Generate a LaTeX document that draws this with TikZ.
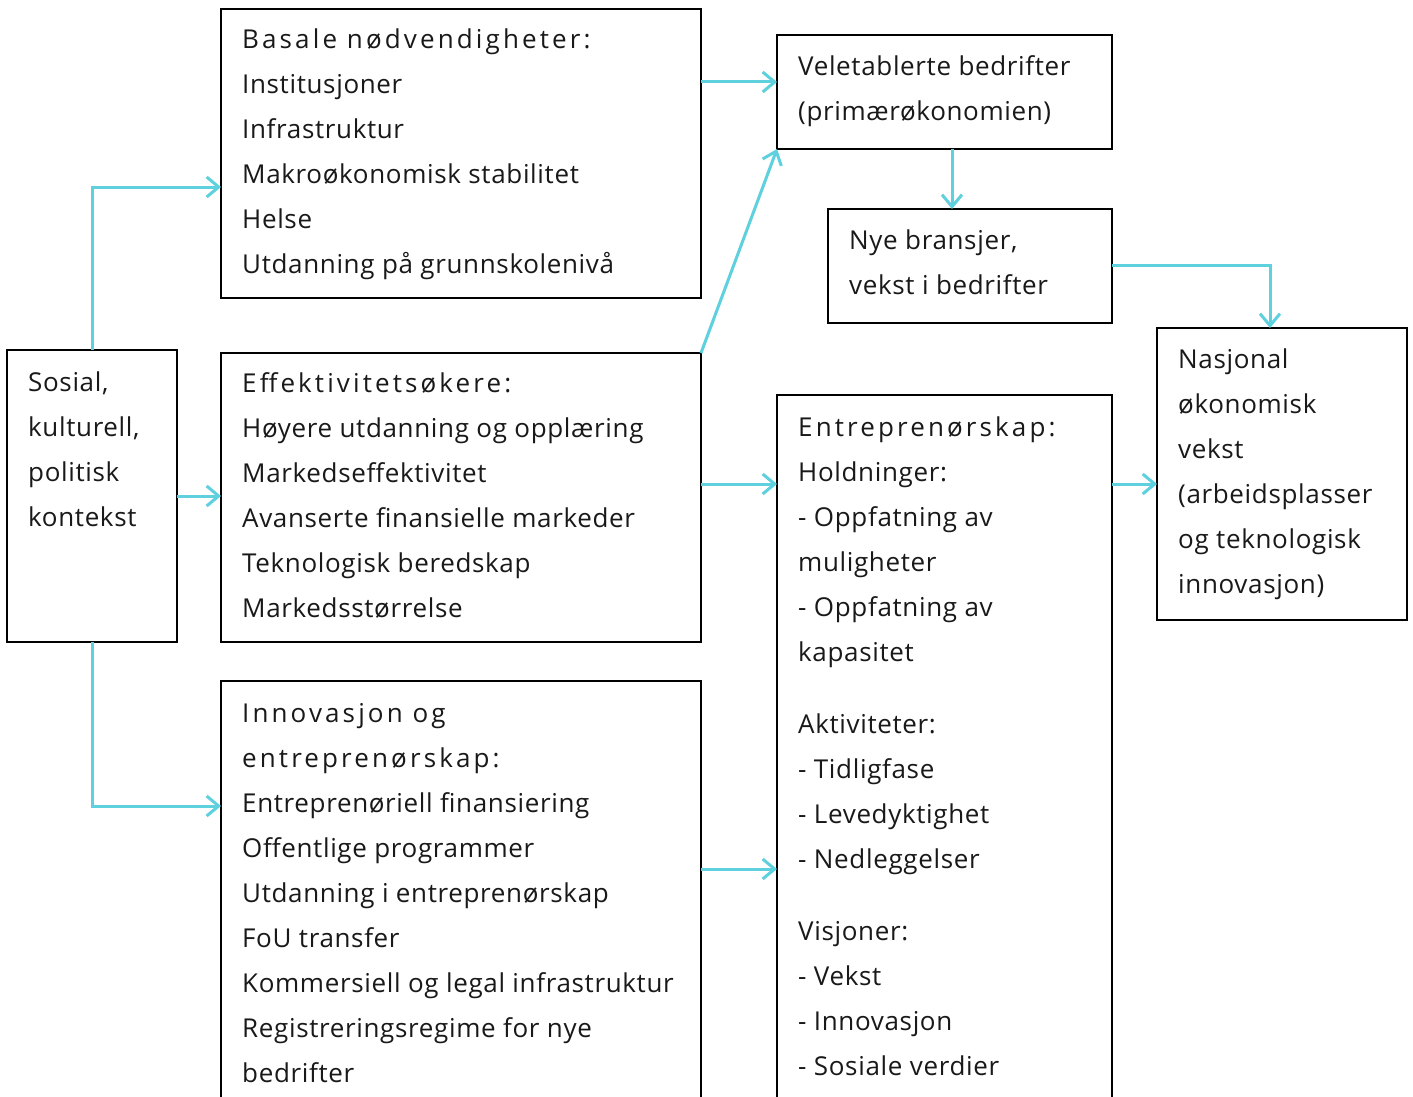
\documentclass[tikz,border=0pt]{standalone}
\usepackage{fontspec}
\setmainfont[LetterSpace=2.5]{Open Sans}
\newfontfamily\headfont[LetterSpace=12]{Open Sans}
\usetikzlibrary{arrows.meta,calc}
\definecolor{arr}{RGB}{94,208,222}
\newcommand\topstrut{\rule{0pt}{30pt}}
\begin{document}
\begin{tikzpicture}[x=1pt,y=-1pt,
 box/.style={draw=black,line width=2pt,inner sep=0pt,outer sep=0pt,anchor=north west},
 txt/.style={anchor=north west,inner sep=0pt,align=left,font=\fontsize{26}{45}\selectfont,text=black!90},
 conn/.style={draw=arr,line width=3pt,-{Straight Barb[length=12pt,width=20pt]}}]
\fill[white] (0,0) rectangle (1413,1097);
\useasboundingbox (0,0) rectangle (1413,1097);
% boxes
\node[box,minimum width=480pt,minimum height=289pt] (bas) at (221,9) {};
\node[box,minimum width=335pt,minimum height=114pt] (vel) at (777,35) {};
\node[box,minimum width=284pt,minimum height=114pt] (nye) at (828,209) {};
\node[box,minimum width=250pt,minimum height=292pt] (nas) at (1157,328) {};
\node[box,minimum width=170pt,minimum height=292pt] (sos) at (7,350) {};
\node[box,minimum width=480pt,minimum height=289pt] (eff) at (221,353) {};
\node[box,minimum width=335pt,minimum height=720pt] (ent) at (777,395) {};
\node[box,minimum width=480pt,minimum height=430pt] (inn) at (221,681) {};
% texts (first baseline = y + 30)
\node[txt] (tbas) at (242,18) {\topstrut{\headfont Basale nødvendigheter:}\\Institusjoner\\Infrastruktur\\Makroøkonomisk stabilitet\\Helse\\Utdanning på grunnskolenivå};
\node[txt] (tvel) at (798,45) {\topstrut Veletablerte bedrifter\\(primærøkonomien)};
\node[txt] (tnye) at (849,219) {\topstrut Nye bransjer,\\vekst i bedrifter};
\node[txt] (tnas) at (1178,338) {\topstrut Nasjonal\\økonomisk\\vekst\\(arbeidsplasser\\og teknologisk\\innovasjon)};
\node[txt] (tsos) at (28,361) {\topstrut Sosial,\\kulturell,\\politisk\\kontekst};
\node[txt] (teff) at (242,362) {\topstrut{\headfont Effektivitetsøkere:}\\Høyere utdanning og opplæring\\Markedseffektivitet\\Avanserte finansielle markeder\\Teknologisk beredskap\\Markedsstørrelse};
\node[txt] (tent) at (798,406) {\topstrut{\headfont Entreprenørskap:}\\Holdninger:\\- Oppfatning av\\muligheter\\- Oppfatning av\\kapasitet\\[27pt]Aktiviteter:\\- Tidligfase\\- Levedyktighet\\- Nedleggelser\\[27pt]Visjoner:\\- Vekst\\- Innovasjon\\- Sosiale verdier};
\node[txt] (tinn) at (242,692) {\topstrut{\headfont Innovasjon og}\\{\headfont entreprenørskap:}\\Entreprenøriell finansiering\\Offentlige programmer\\Utdanning i entreprenørskap\\FoU transfer\\Kommersiell og legal infrastruktur\\Registreringsregime for nye\\bedrifter};
% connectors
\draw[conn] (sos.north) |- (bas.west |- 0,187);
\draw[conn] (sos.east) -- (eff.west |- sos.east);
\draw[conn] (sos.south) |- (inn.west |- 0,806);
\draw[conn] (bas.east |- 0,82) -- (vel.west |- 0,82);
\draw[conn] (eff.north east) -- (vel.south west);
\draw[conn] (vel.south -| 952,0) -- (nye.north -| 952,0);
\draw[conn] (nye.east |- 0,265) -| (nas.north -| 1270,0);
\draw[conn] (eff.east |- 0,484) -- (ent.west |- 0,484);
\draw[conn] (inn.east |- 0,869) -- (ent.west |- 0,869);
\draw[conn] (ent.east |- 0,484) -- (nas.west |- 0,484);
\end{tikzpicture}
\end{document}
